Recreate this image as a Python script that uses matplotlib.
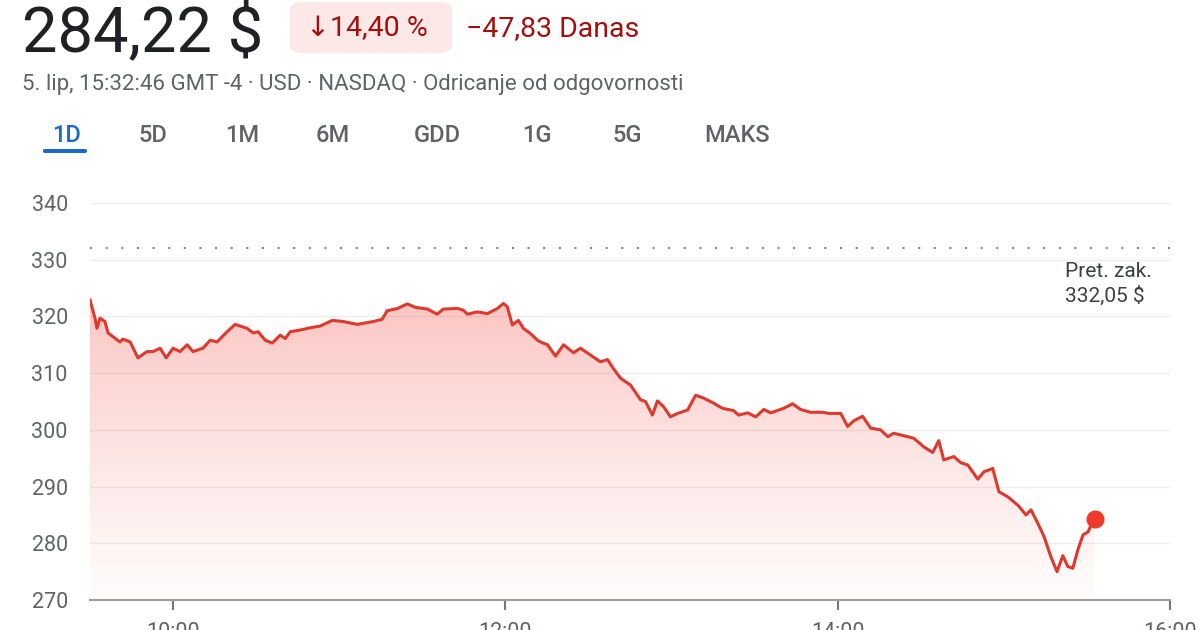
import matplotlib
matplotlib.use("Agg")
import matplotlib.pyplot as plt
import numpy as np
from matplotlib.patches import FancyBboxPatch, Polygon

plt.rcParams['font.family'] = ['Roboto', 'DejaVu Sans']

# ---- data ----
minutes_after_open = [0, 1.8, 2.5, 3.6, 5.4, 6.5, 10.8, 11.9, 14.5, 17.3, 20.6, 22.8, 25.3, 27.5, 30.0,
                      32.5, 35.1, 37.2, 40.8, 43.4, 45.9, 49.5, 52.4, 56.7, 58.9, 60.7, 63.3, 65.8, 68.7,
                      70.5, 72.3, 75.9, 79.5, 83.1, 87.5, 91.4, 96.5, 102.3, 105.5, 107.3, 111.0, 114.6,
                      117.5, 121.8, 125.4, 127.6, 132.7, 134.8, 136.3, 139.9, 143.5, 147.1, 149.3, 150.7,
                      152.5, 154.7, 156.5, 159.0, 161.6, 162.7, 165.2, 168.1, 171.0, 174.6, 177.1, 180.7,
                      184.3, 186.9, 189.0, 191.6, 195.2, 198.8, 200.6, 203.1, 204.9, 207.1, 209.6, 212.2,
                      215.8, 218.7, 221.6, 225.2, 228.4, 232.4, 234.2, 237.5, 240.4, 243.3, 245.8, 250.5,
                      253.7, 256.6, 260.2, 264.6, 266.7, 271.1, 273.6, 275.8, 279.0, 281.9, 285.5, 288.1,
                      290.2, 295.3, 297.5, 301.1, 304.3, 306.5, 308.3, 311.9, 314.5, 317.0, 320.6, 322.8,
                      326.0, 328.2, 331.4, 335.1, 338.0, 339.8, 342.3, 344.5, 347.0, 349.2, 351.3, 353.1,
                      354.9, 356.7, 358.6, 360.4, 361.5, 362.8]
prices = [322.9, 319.7, 317.9, 319.7, 319.1, 317.1, 315.5, 316.0, 315.5, 312.7, 313.8, 313.8, 314.4,
          312.7, 314.4, 313.8, 315.0, 313.8, 314.4, 315.8, 315.5, 317.3, 318.6, 317.9, 317.1, 317.3,
          315.8, 315.3, 316.7, 316.1, 317.3, 317.6, 318.0, 318.3, 319.3, 319.1, 318.6, 319.1, 319.5,
          321.0, 321.4, 322.2, 321.6, 321.3, 320.4, 321.3, 321.4, 321.1, 320.4, 320.8, 320.5, 321.4,
          322.3, 321.7, 318.5, 319.3, 317.9, 317.0, 315.8, 315.5, 315.0, 313.0, 315.0, 313.6, 314.4,
          313.2, 312.0, 312.4, 310.8, 309.1, 307.9, 305.3, 305.0, 302.6, 305.1, 304.1, 302.3, 302.9,
          303.5, 306.1, 305.6, 304.7, 303.8, 303.4, 302.6, 303.0, 302.3, 303.6, 303.0, 303.8, 304.6,
          303.6, 303.1, 303.1, 302.9, 302.9, 300.6, 301.6, 302.4, 300.3, 300.0, 298.8, 299.4, 298.8,
          298.5, 297.0, 296.0, 298.1, 294.7, 295.3, 294.2, 293.8, 291.3, 292.6, 293.2, 289.1, 288.2,
          286.7, 285.0, 285.9, 283.5, 281.2, 277.6, 275.0, 277.8, 275.9, 275.6, 278.8, 281.5, 282.0,
          283.2, 284.22]
prev_close = 332.05
y_ticks = [270, 280, 290, 300, 310, 320, 330, 340]
x_tick_minutes = [30, 150, 270, 390]
x_tick_labels = ["10:00", "12:00", "14:00", "16:00"]
tabs = ["1D", "5D", "1M", "6M", "GDD", "1G", "5G", "MAKS"]
tab_x = [67, 153, 242, 333, 437, 537, 627, 737]

W, H = 1200, 630
fig = plt.figure(figsize=(12, 6.3), dpi=100)
fig.patch.set_facecolor("white")

def fy(py):
    return 1 - py / H

ax = fig.add_axes([90 / W, fy(600), (1170 - 90) / W, (600 - 203) / H])
ax.set_xlim(0, 390)
ax.set_ylim(270, 340)
ax.patch.set_alpha(0)
for s in ax.spines.values():
    s.set_visible(False)

# grid
for yv in y_ticks[1:]:
    ax.axhline(yv, color="#eeeeee", lw=1, zorder=0)
ax.axhline(270, color="#9e9e9e", lw=1.5, zorder=3, clip_on=False)

# gradient fill
xs = np.array(minutes_after_open)
ys = np.array(prices)
grad = np.linspace(0, 1, 256)
img = np.zeros((256, 1, 4))
img[..., 0] = 0.95
img[..., 1] = 0.30
img[..., 2] = 0.26
img[..., 3] = (0.02 + 0.30 * grad ** 1.2).reshape(-1, 1)
im = ax.imshow(img, extent=[0, 390, 270, 323], origin="lower", aspect="auto", zorder=1)
verts = np.vstack([np.column_stack([xs, ys]), [[xs[-1], 270], [xs[0], 270]]])
clip = Polygon(verts, closed=True, transform=ax.transData, facecolor="none", edgecolor="none")
ax.add_patch(clip)
im.set_clip_path(clip)

ax.plot(xs, ys, color="#e0382c", lw=2.2, zorder=4, solid_joinstyle="round")
ax.plot([xs[-1]], [ys[-1]], "o", color="#f0392b", ms=12, zorder=5)

# previous close dotted
ax.axhline(prev_close, color="#80868b", lw=1.5, ls=(0, (1, 6.5)), zorder=2)
ax.text(1065 / W, fy(277), "Pret. zak.", transform=fig.transFigure, ha="left", va="baseline",
        fontsize=15, color="#3c4043")
ax.text(1065 / W, fy(302), "332,05 $", transform=fig.transFigure, ha="left", va="baseline",
        fontsize=15, color="#3c4043")

# ticks
ax.set_yticks(y_ticks)
ax.set_yticklabels([str(v) for v in y_ticks], fontsize=15.5, color="#5f6368")
ax.tick_params(axis="y", length=0, pad=16)
ax.set_xticks(x_tick_minutes)
ax.set_xticklabels(x_tick_labels, fontsize=15.5, color="#5f6368")
ax.tick_params(axis="x", length=7, width=1.5, color="#757575", pad=9, direction="out")

# header
fig.text(22 / W, fy(52), "284,22 $", fontsize=45.5, color="#202124", va="baseline")
badge = FancyBboxPatch((290 / W, fy(53)), 162 / W, 51 / H,
                       boxstyle="round,pad=0,rounding_size=0.012", transform=fig.transFigure,
                       facecolor="#fce8e6", edgecolor="none")
fig.patches.append(badge)
fig.text(306 / W, fy(36), "↓14,40 %", fontsize=20.5, color="#a50e0e", va="baseline")
fig.text(466 / W, fy(36), "−47,83 Danas", fontsize=20.5, color="#a50e0e", va="baseline")
fig.text(22 / W, fy(90), "5. lip, 15:32:46 GMT -4 · USD · NASDAQ · Odricanje od odgovornosti",
         fontsize=16, color="#5f6368", va="baseline")

for t, x in zip(tabs, tab_x):
    fig.text(x / W, fy(142), t, fontsize=17, ha="center", va="baseline", weight="medium",
             color="#1967d2" if t == "1D" else "#5f6368")
fig.patches.append(FancyBboxPatch((43 / W, fy(153)), 44 / W, 4 / H,
                                  boxstyle="round,pad=0,rounding_size=0.002",
                                  transform=fig.transFigure, facecolor="#1967d2", edgecolor="none"))

fig.savefig("out.png", dpi=100)
